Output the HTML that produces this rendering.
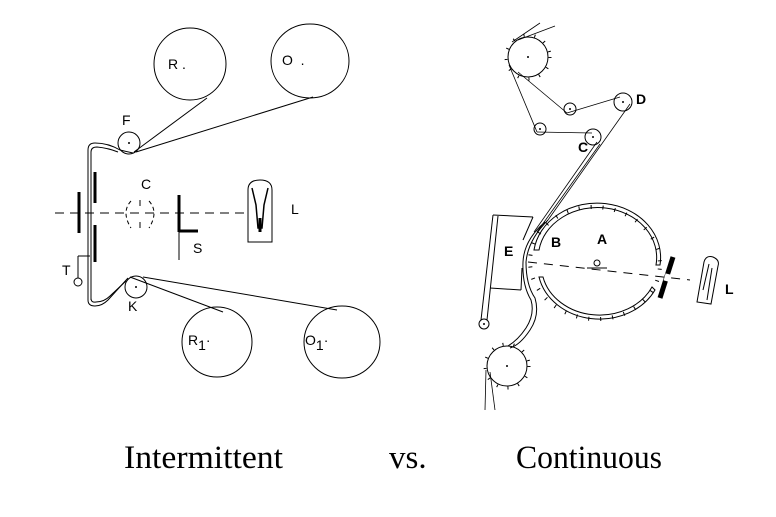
<!DOCTYPE html>
<html><head><meta charset="utf-8"><style>
html,body{margin:0;padding:0;background:#fff;width:776px;height:517px;overflow:hidden}
svg{display:block}
.t{font-family:"Liberation Sans",sans-serif;font-size:14px;fill:#000}
.b{font-weight:bold}
.cap{font-family:"Liberation Serif",serif;font-size:33px;fill:#000}
</style></head><body>
<svg width="776" height="517" viewBox="0 0 776 517" fill="none" stroke="#000" stroke-width="1">
<!-- LEFT: intermittent -->
<circle cx="190" cy="64" r="36"/>
<ellipse cx="310" cy="61" rx="39" ry="37"/>
<circle cx="129" cy="143" r="11"/>
<circle cx="136" cy="287" r="11"/>
<circle cx="217" cy="342" r="35"/>
<ellipse cx="342" cy="342" rx="38" ry="36"/>
<g fill="#000" stroke="none">
<circle cx="129" cy="143" r="1"/><circle cx="136" cy="287" r="1"/>
</g>
<line x1="134" y1="152" x2="207" y2="98"/>
<line x1="136" y1="152" x2="313" y2="97"/>
<line x1="130" y1="277" x2="223" y2="312"/>
<line x1="143" y1="277" x2="337" y2="310"/>
<path d="M88 300 L88 150 Q88 143 95 143 Q108 143 120 150 L133 153"/>
<path d="M91 300 L91 152 Q91 147 97 147 Q108 148 118 152"/>
<path d="M88 300 Q88 306 95 306 Q102 306 108 300 L128 278"/>
<path d="M91 298 Q91 303 96 302 Q104 302 110 296 L126 281"/>
<line x1="55" y1="213" x2="250" y2="213" stroke-dasharray="9,6"/>
<line x1="95" y1="172" x2="95" y2="203" stroke-width="3"/>
<line x1="95" y1="225" x2="95" y2="262" stroke-width="3"/>
<line x1="79" y1="192" x2="79" y2="233" stroke-width="3"/>
<path d="M131 201 Q121 212 131 228" stroke-dasharray="4,3"/>
<path d="M149 201 Q159 212 149 228" stroke-dasharray="4,3"/>
<line x1="140" y1="200" x2="140" y2="206"/><line x1="140" y1="222" x2="140" y2="228"/>
<line x1="179" y1="195" x2="179" y2="260"/>
<line x1="179" y1="195" x2="179" y2="232" stroke-width="3"/>
<line x1="179" y1="231" x2="198" y2="231" stroke-width="3"/>
<path d="M248 242 L248 190 Q248 180 260 180 Q272 180 272 190 L272 242 Z"/>
<path d="M252 188 L256 205 L258 228 L262 228 L264 205 L268 188" stroke-width="1.5"/>
<line x1="260" y1="218" x2="260" y2="232" stroke-width="3"/>
<line x1="90" y1="256" x2="78" y2="256"/><line x1="78" y1="256" x2="78" y2="278"/>
<circle cx="78" cy="282" r="4"/>
<g fill="#000" stroke="none">
<text class="t" x="168" y="69">R .</text>
<text class="t" x="282" y="65">O &#160;.</text>
<text class="t" x="122" y="125">F</text>
<text class="t" x="141" y="189">C</text>
<text class="t" x="193" y="253">S</text>
<text class="t" x="291" y="214">L</text>
<text class="t" x="62" y="275">T</text>
<text class="t" x="128" y="311">K</text>
<text class="t" x="188" y="345">R<tspan dy="5">1</tspan><tspan dy="-5">·</tspan></text>
<text class="t" x="305" y="345">O<tspan dy="5">1</tspan><tspan dy="-5">·</tspan></text>
</g>
<!-- RIGHT: continuous -->
<circle cx="528" cy="57" r="20"/>
<circle cx="528" cy="57" r="22" stroke-dasharray="1,10" stroke-width="3"/>
<circle cx="507" cy="366" r="20"/>
<circle cx="507" cy="366" r="22" stroke-dasharray="1,10" stroke-width="3"/>
<circle cx="570" cy="109" r="6"/>
<circle cx="623" cy="102" r="9"/>
<circle cx="540" cy="129" r="6"/>
<circle cx="593" cy="137" r="8"/>
<circle cx="484" cy="324" r="5"/>
<g fill="#000" stroke="none">
<circle cx="528" cy="57" r="1"/><circle cx="507" cy="366" r="1"/><circle cx="570" cy="109" r="1"/><circle cx="623" cy="102" r="1"/><circle cx="540" cy="129" r="1"/><circle cx="593" cy="137" r="1"/><circle cx="484" cy="324" r="1"/>
</g>
<g stroke-width="0.8">
<line x1="512" y1="42" x2="540" y2="23"/><line x1="518" y1="40" x2="555" y2="26"/>
<line x1="509" y1="65" x2="537" y2="132"/><line x1="537" y1="132" x2="592" y2="133"/>
<line x1="518" y1="72" x2="567" y2="113"/><line x1="567" y1="113" x2="620" y2="97"/>
<line x1="630" y1="104" x2="548" y2="220"/>
<line x1="597" y1="142" x2="534" y2="232"/><line x1="600" y1="144" x2="537" y2="232"/>
<line x1="486" y1="370" x2="485" y2="410"/><line x1="490" y1="372" x2="495" y2="410"/>
</g>
<!-- drum -->
<path d="M534 250 A62 53 0 1 1 660 265 L656 265 A58 49 0 1 0 539 250 Z"/>
<path d="M539 277 A62 53 0 0 0 655 290 L652 287 A58 49 0 0 1 543 277 Z"/>
<ellipse cx="595" cy="263" rx="65" ry="56" stroke-dasharray="1,11" stroke-width="4" transform="rotate(5 595 263)"/>
<line x1="528" y1="262" x2="690" y2="280" stroke-dasharray="9,7"/>
<circle cx="597" cy="263" r="3"/>
<line x1="587" y1="268" x2="607" y2="268"/>
<line x1="673" y1="257" x2="660" y2="298" stroke-width="5"/>
<line x1="668" y1="274" x2="666" y2="281" stroke="#fff" stroke-width="5"/>
<path d="M697 302 L704 262 Q706 255 713 257 Q720 260 718 266 L711 304 Z"/>
<line x1="703" y1="290" x2="709" y2="264"/><line x1="707" y1="300" x2="712" y2="268"/>
<!-- film path around drum -->
<path d="M548 220 Q528 240 526 262 Q526 285 535 298 Q540 315 530 330 Q520 345 510 348"/>
<path d="M545 222 Q524 240 523 262 Q522 285 531 300 Q535 314 526 328 Q518 340 508 346"/>
<!-- E frame -->
<line x1="493" y1="215" x2="533" y2="217"/>
<line x1="533" y1="217" x2="523" y2="240"/>
<line x1="490" y1="288" x2="521" y2="290"/>
<line x1="521" y1="290" x2="522" y2="268"/>
<line x1="493" y1="215" x2="481" y2="320"/><line x1="498" y1="216" x2="487" y2="320"/>
<g fill="#000" stroke="none">
<text class="t b" x="636" y="104">D</text>
<text class="t b" x="578" y="152">C</text>
<text class="t b" x="597" y="244">A</text>
<text class="t b" x="551" y="247">B</text>
<text class="t b" x="504" y="256">E</text>
<text class="t b" x="725" y="294">L</text>
<text class="cap" x="124" y="468" textLength="159" lengthAdjust="spacingAndGlyphs">Intermittent</text>
<text class="cap" x="389" y="468">vs.</text>
<text class="cap" x="516" y="468" textLength="146" lengthAdjust="spacingAndGlyphs">Continuous</text>
</g>
</svg>
</body></html>
